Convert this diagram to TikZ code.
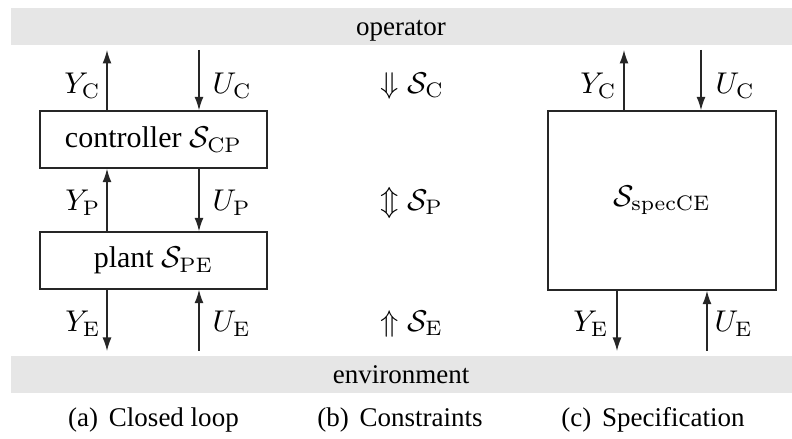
\documentclass[tikz,border=0pt]{standalone}
\usepackage[no-math]{fontspec}
\setmainfont{Liberation Serif}
\newfontfamily\tnr{Liberation Serif}
\usetikzlibrary{arrows.meta}
\definecolor{bandgray}{HTML}{E6E6E6}
\begin{document}
\begin{tikzpicture}[x=0.3333pt,y=-0.3333pt,
 every node/.style={font=\tnr},
 blk/.style={draw=black!85, line width=0.45pt, inner sep=0pt},
 sig/.style={draw=black!85, line width=0.45pt, -{Latex[length=4.5pt,width=3pt]}},
 lbl/.style={inner sep=0pt},
 small/.style={inner sep=0pt, font=\tnr\fontsize{9}{11}\selectfont},
]
\useasboundingbox (0,0) rectangle (792,439);
% bands
\fill[bandgray] (11,8) rectangle (792,45);
\fill[bandgray] (11,356) rectangle (792,393);
\node[small, anchor=base] (op) at (401,36) {operator};
\node[small, anchor=base] (env) at (401,384) {environment};
% (a) closed loop
\node[blk, minimum width=75.67pt, minimum height=19pt] (ctrl) at (153.5,139.5) {controller $\mathcal{S}_\mathrm{CP}$};
\node[blk, minimum width=75.67pt, minimum height=19pt] (plant) at (153.5,260.5) {plant $\mathcal{S}_\mathrm{PE}$};
\coordinate (aYt) at (107,50);
\coordinate (aUt) at (199,50);
\coordinate (aYb) at (107,351);
\coordinate (aUb) at (199,351);
\draw[sig] (ctrl.north -| aYt) -- (aYt);
\draw[sig] (aUt) -- (ctrl.north -| aUt);
\draw[sig] (plant.north -| aYt) -- (ctrl.south -| aYt);
\draw[sig] (ctrl.south -| aUt) -- (plant.north -| aUt);
\draw[sig] (plant.south -| aYb) -- (aYb);
\draw[sig] (aUb) -- (plant.south -| aUb);
\node[lbl, anchor=east] (lYC) at (101,86) {$Y_\mathrm{C}$};
\node[lbl, anchor=west] (lUC) at (212,86) {$U_\mathrm{C}$};
\node[lbl, anchor=east] (lYP) at (101,203) {$Y_\mathrm{P}$};
\node[lbl, anchor=west] (lUP) at (212,203) {$U_\mathrm{P}$};
\node[lbl, anchor=east] (lYE) at (101,324) {$Y_\mathrm{E}$};
\node[lbl, anchor=west] (lUE) at (212,324) {$U_\mathrm{E}$};
% (b) constraints
\node[lbl, anchor=west] (cC) at (380,86) {$\Downarrow \mathcal{S}_\mathrm{C}$};
\node[lbl, anchor=west] (cP) at (380,203) {$\Updownarrow \mathcal{S}_\mathrm{P}$};
\node[lbl, anchor=west] (cE) at (380,324) {$\Uparrow \mathcal{S}_\mathrm{E}$};
% (c) specification
\node[blk, minimum width=76pt, minimum height=59.67pt] (spec) at (662,200.5) {$\mathcal{S}_\mathrm{specCE}$};
\coordinate (sYt) at (624,50);
\coordinate (sUt) at (701,50);
\coordinate (sYb) at (617,351);
\coordinate (sUb) at (707,351);
\draw[sig] (spec.north -| sYt) -- (sYt);
\draw[sig] (sUt) -- (spec.north -| sUt);
\draw[sig] (spec.south -| sYb) -- (sYb);
\draw[sig] (sUb) -- (spec.south -| sUb);
\node[lbl, anchor=east] (sYC) at (617,86) {$Y_\mathrm{C}$};
\node[lbl, anchor=west] (sUC) at (715,86) {$U_\mathrm{C}$};
\node[lbl, anchor=east] (sYE) at (609,324) {$Y_\mathrm{E}$};
\node[lbl, anchor=west] (sUE) at (714,324) {$U_\mathrm{E}$};
% captions
\node[small, anchor=base] (capa) at (153.5,427) {(a)\hspace{0.4em}Closed loop};
\node[small, anchor=base] (capb) at (400,427) {(b)\hspace{0.4em}Constraints};
\node[small, anchor=base] (capc) at (653,427) {(c)\hspace{0.4em}Specification};
\end{tikzpicture}
\end{document}
